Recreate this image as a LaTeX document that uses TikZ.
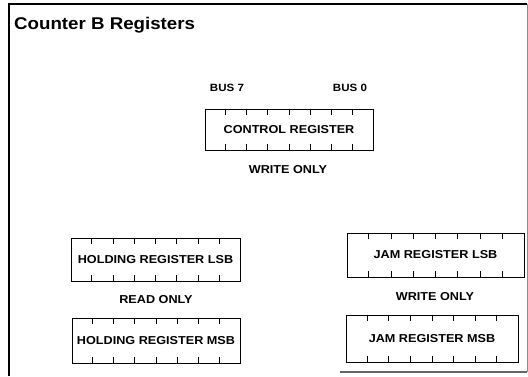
\documentclass[tikz,border=0pt]{standalone}
\usepackage{fontspec}
\setmainfont{Liberation Sans}[FakeStretch=1.1]
\usetikzlibrary{calc}
\tikzset{
  reg/.style={draw=black, line width=0.9bp, rectangle, inner sep=0pt, font=\fontsize{11.5bp}{13bp}\bfseries},
  lbl/.style={inner sep=0pt, font=\fontsize{11.5bp}{13bp}\bfseries},
  buslbl/.style={inner sep=0pt, font=\fontsize{10.5bp}{12bp}\bfseries},
  tick/.style={line width=0.8bp},
  frame/.style={line width=1.5bp}
}
\newcommand{\regticks}[1]{%
  \foreach \i in {1,...,7} {%
    \draw[tick] ($(#1.north west)!\i/8!(#1.north east)$) -- ++(0,6);
    \draw[tick] ($(#1.south west)!\i/8!(#1.south east)$) -- ++(0,-6);
  }%
}
\begin{document}
\begin{tikzpicture}[x=1bp,y=-1bp]
\useasboundingbox (0,0) rectangle (528,376);
% frame
\coordinate (fbl) at (9,376);
\coordinate (ftl) at (9,4);
\coordinate (ftr) at (527,4);
\coordinate (fbr) at (527,372);
\coordinate (fbm) at (340,372);
\draw[frame] (fbl) -- (ftl) -- (ftr);
\draw[line width=0.8bp, black!45] (ftr) -- (fbr);
\draw[line width=1.2bp, black!60] (fbm) -- (fbr);
% title
\node[anchor=base west, inner sep=0pt, font=\fontsize{17bp}{19bp}\bfseries] (title) at (14,29) {Counter B Registers};
% control register
\node[buslbl] (bus7) at (227,88) {BUS 7};
\node[buslbl] (bus0) at (350,88) {BUS 0};
\node[reg, minimum width=168bp, minimum height=41bp] (ctrl) at (289,129.5) {CONTROL REGISTER};
\regticks{ctrl}
\node[lbl] (wo1) at (288,170) {WRITE ONLY};
% holding registers
\node[reg, minimum width=169bp, minimum height=43bp] (hlsb) at (155.5,259.5) {HOLDING REGISTER LSB};
\regticks{hlsb}
\node[lbl] (ro) at (156,300) {READ ONLY};
\node[reg, minimum width=168bp, minimum height=45bp] (hmsb) at (156,340.5) {HOLDING REGISTER MSB};
\regticks{hmsb}
% jam registers
\node[reg, minimum width=177bp, minimum height=44bp] (jlsb) at (435.5,255) {JAM REGISTER LSB};
\regticks{jlsb}
\node[lbl] (wo2) at (435,297) {WRITE ONLY};
\node[reg, minimum width=172bp, minimum height=47bp] (jmsb) at (432,338.5) {JAM REGISTER MSB};
\regticks{jmsb}
\end{tikzpicture}
\end{document}
